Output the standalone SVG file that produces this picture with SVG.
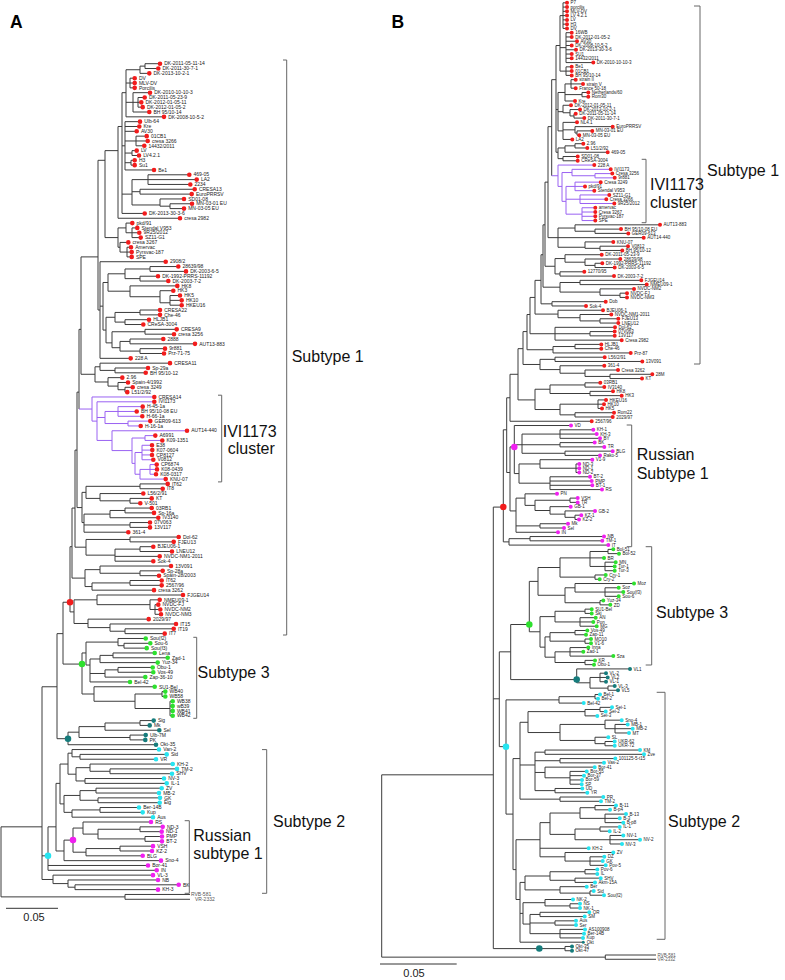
<svg xmlns="http://www.w3.org/2000/svg" width="785" height="980" viewBox="0 0 785 980">
<style>
.t{fill:none;stroke:#3c3c3c;stroke-width:1;vector-effect:non-scaling-stroke}
.pu{fill:none;stroke:#9a62f2;stroke-width:1;vector-effect:non-scaling-stroke}
.d{fill:none;stroke-linecap:round;vector-effect:non-scaling-stroke;stroke-width:4.6}
.db{fill:none;stroke-linecap:round;vector-effect:non-scaling-stroke;stroke-width:4}
.ds{fill:none;stroke-linecap:round;vector-effect:non-scaling-stroke;stroke-width:3}
.nd{fill:none;stroke-linecap:round;vector-effect:non-scaling-stroke;stroke-width:6.5}
.red{stroke:#f21c1c}.mag{stroke:#f020f0}.grn{stroke:#2ee02e}.tea{stroke:#167c7c}.cya{stroke:#26e4f0}
.la{font-family:"Liberation Sans",Arial,sans-serif;font-size:5px;fill:#1a1a1a}
.lb{font-family:"Liberation Sans",Arial,sans-serif;font-size:4.5px;fill:#1a1a1a}
.og{fill:#555}
.big{font-family:"Liberation Sans",Arial,sans-serif;font-size:16px;fill:#111}
.br{fill:none;stroke:#666;stroke-width:1}
.pl{font-family:"Liberation Sans",Arial,sans-serif;font-size:17.5px;font-weight:bold;fill:#000}
.sc{font-family:"Liberation Sans",Arial,sans-serif;font-size:11px;fill:#222}
</style>
<rect width="785" height="980" fill="#fff"/>

<g id="panelA">
<text class="pl" x="10" y="28">A</text>
<g id="A-connectors" transform="matrix(1 0 0 4.83 0 63.7)">
<path class="t" d="M1 158V172.5M1 158H42M1 172.5H125M125 172V173M125 172H190M125 173H190
M42 129V168.9M42 129H57M42 164H48M42 168.9H53
M53 168V169.75M53 168H153M53 169.75H68M68 169V170.5M68 169H158M68 170.5H75M75 170V171M75 170H178.7M75 171H158
M48 158V167M48 158H56M48 166H148M48 167H156.7
M56 149V163M56 149H60M56 163H64
M60 145V153.25M60 145H68M60 153.25H64
M68 142.75V147.1M68 142.75H72M68 147.1H76
M72 142V143.5M72 142H159M72 143.5H80
M80 143V144M80 143H166.7M80 144H156
M76 145.75V148.5M76 145.75H90M76 148.5H85
M90 145V146.5M90 145H172.7M90 146.5H110
M110 146V147M110 146H177M110 147H172
M85 148V149M85 148H164M85 149H166.7
M64 151.5V155M64 151.5H80M64 155H72
M80 150.5V152.5M80 150.5H96M80 152.5H98
M96 150V151M96 150H161.7M96 151H159
M98 152V153M98 152H160M98 153H159.7
M72 154.5V156M72 154.5H100M72 156H153
M100 154V155M100 154H139M100 155H142.7
M64 160.75V165M64 160.75H73M64 165H161
M73 158.25V163.25M73 158.25H83M73 163.25H86
M83 157V159.5M83 157H151M83 159.5H98
M98 158.5V160.5M98 158.5H140M98 160.5H145
M140 158V159M140 158H162.7M140 159H161.7
M145 160V161M145 160H162M145 161H162
M86 162.5V164M86 162.5H120M86 164H142.7
M120 162V163M120 162H153M120 163H152
M57 118V139.75M57 118H63M57 139.75H68
M63 111.5V124.3M63 111.5H70M63 124.3H82
M82 122V130.5M82 122H86M82 130.5H94
M86 119.75V124.5M86 119.75H118M86 124.5H90
M118 119V120.5M118 119H145.7M118 120.5H124
M124 120V121M124 120H150.3M124 121H146.7
M90 123.25V128M90 123.25H100M90 126.25H105M90 128H130
M100 122.5V124M100 122.5H113M100 124H157.7
M113 122V123M113 122H154.7M113 123H167.7
M105 125.5V127M105 125.5H118M105 127H145.3
M118 125V126M118 125H152.7M118 126H153.3
M94 129V132M94 129H154.7M94 132H135
M135 130.5V133.5M135 130.5H162M135 133.5H170
M162 130V131M162 130H165.3M162 131H165.3
M170 132V135M170 132H172.7M170 133H172.7M170 134H172.7M170 135H172.7
M68 138.4V141M68 138.4H79M68 141H156
M79 137.25V139.5M79 137.25H105M79 139.5H130
M105 136.5V138M105 136.5H140M105 138H159.3
M140 136V137M140 136H153.7M140 137H149.7
M130 139V140M130 139H145.7M130 140H145.3
M70 100V113.5M70 100H72M70 113.5H74
M74 111V115.9M74 111H97M74 115.9H88
M97 110V112M97 110H183M97 112H150
M150 111V113M150 111H159.7M150 113H155
M155 112V114M155 112H158.3M155 113H160.3M155 114H161
M88 115V116.75M88 115H148.7M88 116.75H110
M110 116V117.5M110 116H176M110 117.5H125
M125 117V118M125 117H173.7M125 118H164.7
M72 92V106.5M72 92H75M72 106.5H85
M85 104.75V108.25M85 104.75H100M85 108.25H92
M100 104V105.5M100 104H171M100 105.5H140
M140 105V106M140 105H162.7M140 106H159
M92 107.5V109M92 107.5H130M92 109H154
M130 107V108M130 107H161.7M130 108H161.7
M75 80V100.1M75 80H77M75 100.1H86
M86 98.5V101.75M86 98.5H130M86 101.75H115
M130 98V99M130 98H178.7M130 99H173.7
M115 100.5V103M115 100.5H140M115 102H159.7M115 103H153.3
M140 100V101M140 100H153.3M140 101H172
M77 68V91.9M77 68H79M77 91.9H82
M82 88.75V95M82 88.75H86M82 95H84
M86 87.5V90M86 87.5H140M86 90H100
M140 87V88M140 87H167.7M140 88H162.7
M100 89V90.5M100 89H143.3M100 90.5H130
M130 90V91M130 90H151.7M130 91H140.3
M84 93.25V97M84 93.25H110M84 95.5H130M84 97H128.3
M110 92.5V94M110 92.5H125M110 94H158.3
M125 92V93M125 92H151.7M125 93H154
M130 95V96M130 95H150M130 96H150
M79 55V71.5M79 55H81
M81 40V64.3M81 40H98M81 64.3H95
M95 62.75V65.9M95 62.75H100M95 65.9H108
M100 62V63.5M100 62H170M100 63.5H115
M115 63V64M115 63H148M115 64H145.7
M108 65V66.75M108 65H122.3M108 66.75H118
M118 66V67.5M118 66H128M118 67.5H125
M125 67V68M125 67H132.7M125 68H127.3
M98 20V51M98 20H105M98 51H100
M100 41V61M100 41H165.7M100 50.2H103M100 61H130.7
M103 45.3V55.15M103 45.3H108M103 55.15H106
M108 43.5V47.1M108 43.5H125M108 47.1H130
M125 42.5V44.5M125 42.5H150M125 44.5H140
M150 42V43M150 42H178.3M150 43H186
M140 44V45M140 44H158M140 45H168.3
M130 46V48.25M130 46H177.3M130 48.25H160
M160 47V49.5M160 47H173.3M160 49.5H170
M170 48V50M170 48H180M170 49H181.7M170 50H181.7
M106 52.5V57.8M106 52.5H115M106 57.8H112
M115 51.5V53.5M115 51.5H140M115 53.5H125
M140 51V52M140 51H160M140 52H160
M125 53V54M125 53H149M125 54H143.3
M112 55.5V58.8M112 55.5H145M112 58.8H120
M145 55V56M145 55H176.7M145 56H174
M120 57.5V59.5M120 57.5H130M120 59.5H140
M130 57V58M130 57H163.3M130 58H195
M140 59V60M140 59H165M140 60H164
M105 18V36M105 18H118M105 36H118
M118 34V38M118 34H126M118 38H120
M126 33V35M126 33H132.3M126 35H132
M132 34V36M132 34H137.3M132 35H139.3M132 36H140.7
M120 37V39M120 37H128.3M120 39H127
M127 38V40M127 38H131M127 39H131.7M127 40H131.7
M118 13V32M118 13H122M118 32H180
M122 6V31M122 6H126M122 17H125M122 27H132M122 31H144.7
M126 1.25V11M126 1.25H140M126 4H130M126 8H133M126 11H164
M140 0.5V2M140 0.5H145M140 2H149.3
M145 0V1M145 0H160M145 1H158.3
M130 3V5M130 3H134.7M130 4H134.7M130 5H134.7
M133 6V10M133 6H150M133 8H138M133 10H149.3
M138 7V9M138 7H144.7M138 8H141.3M138 9H142.7
M125 12V22M125 12H140M125 13H139.3M125 14H136.7M125 16H136M125 18.5H132M125 20.5H131M125 22H154
M136 15V17M136 15H146.7M136 16H147.7M136 17H144.3
M132 18V19M132 18H136.7M132 19H139
M131 20V21M131 20H134.7M131 21H134.7
M132 24V29.25M132 24H148M132 26.5H140M132 29.25H160
M148 23V25M148 23H189.3M148 24H196.7M148 25H190.3
M140 26V27M140 26H194.7M140 27H191.7
M160 28V29.5M160 28H184M160 29.5H170
M170 29V30M170 29H192M170 30H184"/>
<path class="pu" d="M79 71.5H92M92 69V74M92 69H154.3M92 74H97
M97 70V78M97 70H154.3M97 73.25H105M97 78H112
M105 72V74.5M105 72H118M105 74.5H128
M118 71V73M118 71H142.7M118 72H136.7M118 73H142.3
M128 74V75M128 74H150.3M128 75H140.7
M112 76V80.1M112 76H187M112 80.1H132
M132 77.5V82.75M132 77.5H145M132 82.75H135
M145 77V78M145 77H155.3M145 78H162.3
M135 80.5V85M135 80.5H142M135 85H140
M142 79V82M142 79H152M142 80H152.3M142 81H152M142 82H153.3
M140 84V86M140 84H150M140 86H165.7
M150 83V85M150 83H156.7M150 84H157M150 85H156"/>
</g>

<g id="A-subtype1">
<path class="d red" transform="matrix(1 0 0 4.83 0 63.7)" d="M160 0h.01M158.3 1h.01M149.3 2h.01M134.7 3h.01M134.7 4h.01M134.7 5h.01M150 6h.01M144.7 7h.01M141.3 8h.01M142.7 9h.01M149.3 10h.01M164 11h.01M140 12h.01M139.3 13h.01M136.7 14h.01M146.7 15h.01M147.7 16h.01M144.3 17h.01M136.7 18h.01M139 19h.01M134.7 20h.01M134.7 21h.01M154 22h.01M189.3 23h.01M196.7 24h.01M190.3 25h.01M194.7 26h.01M191.7 27h.01M184 28h.01M192 29h.01M184 30h.01M144.7 31h.01M180 32h.01M132.3 33h.01M137.3 34h.01M139.3 35h.01M140.7 36h.01M128.3 37h.01M131 38h.01M131.7 39h.01M131.7 40h.01M165.7 41h.01M178.3 42h.01M186 43h.01M158 44h.01M168.3 45h.01M177.3 46h.01M173.3 47h.01M180 48h.01M181.7 49h.01M181.7 50h.01M160 51h.01M160 52h.01M149 53h.01M143.3 54h.01M176.7 55h.01M174 56h.01M163.3 57h.01M195 58h.01M165 59h.01M164 60h.01M130.7 61h.01M170 62h.01M148 63h.01M145.7 64h.01M122.3 65h.01M128 66h.01M132.7 67h.01M127.3 68h.01M154.3 69h.01M154.3 70h.01M142.7 71h.01M136.7 72h.01M142.3 73h.01M150.3 74h.01M140.7 75h.01M187 76h.01M155.3 77h.01M162.3 78h.01M152 79h.01M152.3 80h.01M152 81h.01M153.3 82h.01M156.7 83h.01M157 84h.01M156 85h.01M165.7 86h.01M167.7 87h.01M162.7 88h.01M143.3 89h.01M151.7 90h.01M140.3 91h.01M151.7 92h.01M154 93h.01M158.3 94h.01M150 95h.01M150 96h.01M128.3 97h.01M178.7 98h.01M173.7 99h.01M153.3 100h.01M172 101h.01M159.7 102h.01M153.3 103h.01M171 104h.01M162.7 105h.01M159 106h.01M161.7 107h.01M161.7 108h.01M154 109h.01M183 110h.01M159.7 111h.01M158.3 112h.01M160.3 113h.01M161 114h.01M148.7 115h.01M176 116h.01M173.7 117h.01M164.7 118h.01"/>
<text class="la"><tspan x="164.2" y="65.4">DK-2011-05-11-14</tspan><tspan x="162.5" dy="4.83">DK-2011-30-7-1</tspan><tspan x="153.5" dy="4.83">DK-2013-10-2-1</tspan><tspan x="138.9" dy="4.83">DV</tspan><tspan x="138.9" dy="4.83">MLV-DV</tspan><tspan x="138.9" dy="4.83">Porcilis</tspan><tspan x="154.2" dy="4.83">DK-2010-10-10-3</tspan><tspan x="148.9" dy="4.83">DK-2011-05-23-9</tspan><tspan x="145.5" dy="4.83">DK-2012-01-05-11</tspan><tspan x="146.9" dy="4.83">DK-2012-01-05-2</tspan><tspan x="153.5" dy="4.83">BH 95/10-14</tspan><tspan x="168.2" dy="4.83">DK-2008-10-5-2</tspan><tspan x="144.2" dy="4.83">Ulb-64</tspan><tspan x="143.5" dy="4.83">Kre</tspan><tspan x="140.9" dy="4.83">AV30</tspan><tspan x="150.9" dy="4.83">01CB1</tspan><tspan x="151.9" dy="4.83">cresa 3266</tspan><tspan x="148.5" dy="4.83">14432/2011</tspan><tspan x="140.9" dy="4.83">LV</tspan><tspan x="143.2" dy="4.83">LV4.2.1</tspan><tspan x="138.9" dy="4.83">H3</tspan><tspan x="138.9" dy="4.83">Su1</tspan><tspan x="158.2" dy="4.83">Be1</tspan><tspan x="193.5" dy="4.83">469-05</tspan><tspan x="200.9" dy="4.83">LA2</tspan><tspan x="194.5" dy="4.83">2234</tspan><tspan x="198.9" dy="4.83">CRESA13</tspan><tspan x="195.9" dy="4.83">EuroPRRSV</tspan><tspan x="188.2" dy="4.83">SD01-08</tspan><tspan x="196.2" dy="4.83">MN-03-01 EU</tspan><tspan x="188.2" dy="4.83">MN-03-05 EU</tspan><tspan x="148.9" dy="4.83">DK-2013-30-3-6</tspan><tspan x="184.2" dy="4.83">cresa 2982</tspan><tspan x="136.5" dy="4.83">pkd/91</tspan><tspan x="141.5" dy="4.83">Stendal V953</tspan><tspan x="143.5" dy="4.83">9R25/2012</tspan><tspan x="144.9" dy="4.83">SZ11-G1</tspan><tspan x="132.5" dy="4.83">cresa 3267</tspan><tspan x="135.2" dy="4.83">Amervac</tspan><tspan x="135.9" dy="4.83">Pyrsvac-187</tspan><tspan x="135.9" dy="4.83">SPE</tspan><tspan x="169.9" dy="4.83">2908/2</tspan><tspan x="182.5" dy="4.83">28639/98</tspan><tspan x="190.2" dy="4.83">DK-2003-6-5</tspan><tspan x="162.2" dy="4.83">DK-1992-PRRS-11192</tspan><tspan x="172.5" dy="4.83">DK-2003-7-2</tspan><tspan x="181.5" dy="4.83">HK8</tspan><tspan x="177.5" dy="4.83">HK3</tspan><tspan x="184.2" dy="4.83">HK5</tspan><tspan x="185.9" dy="4.83">HK10</tspan><tspan x="185.9" dy="4.83">HKEU16</tspan><tspan x="164.2" dy="4.83">CRESA22</tspan><tspan x="164.2" dy="4.83">Che-46</tspan><tspan x="153.2" dy="4.83">HLJB1</tspan><tspan x="147.5" dy="4.83">CReSA-3004</tspan><tspan x="180.9" dy="4.83">CRESA9</tspan><tspan x="178.2" dy="4.83">cresa 3256</tspan><tspan x="167.5" dy="4.83">2888</tspan><tspan x="199.2" dy="4.83">AUT13-883</tspan><tspan x="169.2" dy="4.83">9r881</tspan><tspan x="168.2" dy="4.83">Prz-71-75</tspan><tspan x="134.9" dy="4.83">228 A</tspan><tspan x="174.2" dy="4.83">CRESA11</tspan><tspan x="152.2" dy="4.83">Sp-29a</tspan><tspan x="149.9" dy="4.83">BH 95/10-12</tspan><tspan x="126.5" dy="4.83">2.96</tspan><tspan x="132.2" dy="4.83">Spain-4/1992</tspan><tspan x="136.9" dy="4.83">cresa 3249</tspan><tspan x="131.5" dy="4.83">L51/2/92</tspan><tspan x="158.5" dy="4.83">CRESA14</tspan><tspan x="158.5" dy="4.83">IVI1173</tspan><tspan x="146.9" dy="4.83">H-45-1a</tspan><tspan x="140.9" dy="4.83">BH 95/10-08 EU</tspan><tspan x="146.5" dy="4.83">H-66-1a</tspan><tspan x="154.5" dy="4.83">GER09-613</tspan><tspan x="144.9" dy="4.83">H-16-1a</tspan><tspan x="191.2" dy="4.83">AUT14-440</tspan><tspan x="159.5" dy="4.83">A6991</tspan><tspan x="166.5" dy="4.83">K09-1351</tspan><tspan x="156.2" dy="4.83">E38</tspan><tspan x="156.5" dy="4.83">K07-0604</tspan><tspan x="156.2" dy="4.83">CP8127</tspan><tspan x="157.5" dy="4.83">V0812</tspan><tspan x="160.9" dy="4.83">CP6874</tspan><tspan x="161.2" dy="4.83">K08-0439</tspan><tspan x="160.2" dy="4.83">K08-0317</tspan><tspan x="169.9" dy="4.83">KNU-07</tspan><tspan x="171.9" dy="4.83">IT62</tspan><tspan x="166.9" dy="4.83">IT8</tspan><tspan x="147.5" dy="4.83">L56/2/91</tspan><tspan x="155.9" dy="4.83">KT</tspan><tspan x="144.5" dy="4.83">V-501</tspan><tspan x="155.9" dy="4.83">03RB1</tspan><tspan x="158.2" dy="4.83">Sp-16a</tspan><tspan x="162.5" dy="4.83">IV3140</tspan><tspan x="154.2" dy="4.83">07V063</tspan><tspan x="154.2" dy="4.83">13V117</tspan><tspan x="132.5" dy="4.83">361-4</tspan><tspan x="182.9" dy="4.83">Dol-62</tspan><tspan x="177.9" dy="4.83">FJEU13</tspan><tspan x="157.5" dy="4.83">BJEU06-1</tspan><tspan x="176.2" dy="4.83">LNEU12</tspan><tspan x="163.9" dy="4.83">NVDC-NM1-2011</tspan><tspan x="157.5" dy="4.83">Sok-4</tspan><tspan x="175.2" dy="4.83">13V091</tspan><tspan x="166.9" dy="4.83">Sp-28a</tspan><tspan x="163.2" dy="4.83">Spain-28/2003</tspan><tspan x="165.9" dy="4.83">IT62</tspan><tspan x="165.9" dy="4.83">2567/96</tspan><tspan x="158.2" dy="4.83">cresa 3262</tspan><tspan x="187.2" dy="4.83">FJGEU14</tspan><tspan x="163.9" dy="4.83">NMEU09-1</tspan><tspan x="162.5" dy="4.83">NVDC-FJ</tspan><tspan x="164.5" dy="4.83">NVDC-NM2</tspan><tspan x="165.2" dy="4.83">NVDC-NM3</tspan><tspan x="152.9" dy="4.83">2029/97</tspan><tspan x="180.2" dy="4.83">IT15</tspan><tspan x="177.9" dy="4.83">IT19</tspan><tspan x="168.9" dy="4.83">IT7</tspan></text>
</g>

<g id="A-subtype3">
<path class="d grn" transform="matrix(1 0 0 4.83 0 63.7)" d="M145.7 119h.01M150.3 120h.01M146.7 121h.01M154.7 122h.01M167.7 123h.01M157.7 124h.01M152.7 125h.01M153.3 126h.01M145.3 127h.01M130 128h.01M154.7 129h.01M165.3 130h.01M165.3 131h.01M172.7 132h.01M172.7 133h.01M172.7 134h.01M172.7 135h.01"/>
<text class="la"><tspan x="149.9" y="640.2">Sou(f2)</tspan><tspan x="154.5" dy="4.83">Sou-6</tspan><tspan x="150.9" dy="4.83">Sou(f3)</tspan><tspan x="158.9" dy="4.83">Lena</tspan><tspan x="171.9" dy="4.83">Zad-1</tspan><tspan x="161.9" dy="4.83">Yuz-34</tspan><tspan x="156.9" dy="4.83">Obu-1</tspan><tspan x="157.5" dy="4.83">Vos-49</tspan><tspan x="149.5" dy="4.83">Zap-36-10</tspan><tspan x="134.2" dy="4.83">Bel-42</tspan><tspan x="158.9" dy="4.83">SU1-Bel</tspan><tspan x="169.5" dy="4.83">WB40</tspan><tspan x="169.5" dy="4.83">WB58</tspan><tspan x="176.9" dy="4.83">WB38</tspan><tspan x="176.9" dy="4.83">wB39</tspan><tspan x="176.9" dy="4.83">WB41</tspan><tspan x="176.9" dy="4.83">WB42</tspan></text>
</g>

<g id="A-teal">
<path class="d tea" transform="matrix(1 0 0 4.83 0 63.7)" d="M153.7 136h.01M149.7 137h.01M159.3 138h.01M145.7 139h.01M145.3 140h.01M156 141h.01"/>
<text class="la"><tspan x="157.9" y="722.3">Sig</tspan><tspan x="153.9" dy="4.83">Mk</tspan><tspan x="163.5" dy="4.83">Sel</tspan><tspan x="149.9" dy="4.83">Ulb-7M</tspan><tspan x="149.5" dy="4.83">PK</tspan><tspan x="160.2" dy="4.83">Okt-35</tspan></text>
</g>

<g id="A-subtype2">
<path class="d cya" transform="matrix(1 0 0 4.83 0 63.7)" d="M159 142h.01M166.7 143h.01M156 144h.01M172.7 145h.01M177 146h.01M172 147h.01M164 148h.01M166.7 149h.01M161.7 150h.01M159 151h.01M160 152h.01M159.7 153h.01M139 154h.01M142.7 155h.01M153 156h.01"/>
<text class="la"><tspan x="163.2" y="751.3">Van-2</tspan><tspan x="170.9" dy="4.83">Sid</tspan><tspan x="160.2" dy="4.83">VR</tspan><tspan x="176.9" dy="4.83">KH-2</tspan><tspan x="181.2" dy="4.83">TM-2</tspan><tspan x="176.2" dy="4.83">SHV</tspan><tspan x="168.2" dy="4.83">NV-3</tspan><tspan x="170.9" dy="4.83">IL-1</tspan><tspan x="165.9" dy="4.83">ZV</tspan><tspan x="163.2" dy="4.83">MB-2</tspan><tspan x="164.2" dy="4.83">GK</tspan><tspan x="163.9" dy="4.83">Eig</tspan><tspan x="143.2" dy="4.83">Ber-14B</tspan><tspan x="146.9" dy="4.83">Kup</tspan><tspan x="157.2" dy="4.83">Aus</tspan></text>
</g>

<g id="A-russian1">
<path class="d mag" transform="matrix(1 0 0 4.83 0 63.7)" d="M151 157h.01M162.7 158h.01M161.7 159h.01M162 160h.01M162 161h.01M153 162h.01M152 163h.01M142.7 164h.01M161 165h.01M148 166h.01M156.7 167h.01M153 168h.01M158 169h.01M178.7 170h.01M158 171h.01"/>
<text class="la"><tspan x="155.2" y="823.8">RS</tspan><tspan x="166.9" dy="4.83">ND-3</tspan><tspan x="165.9" dy="4.83">ND-1</tspan><tspan x="166.2" dy="4.83">PMP</tspan><tspan x="166.2" dy="4.83">BT-2</tspan><tspan x="157.2" dy="4.83">VSH</tspan><tspan x="156.2" dy="4.83">KZ-2</tspan><tspan x="146.9" dy="4.83">BLG</tspan><tspan x="165.2" dy="4.83">Sno-4</tspan><tspan x="152.2" dy="4.83">Bor-41</tspan><tspan x="160.9" dy="4.83">IN</tspan><tspan x="157.2" dy="4.83">VL-3</tspan><tspan x="162.2" dy="4.83">NB</tspan><tspan x="182.9" dy="4.83">BK</tspan><tspan x="162.2" dy="4.83">KH-3</tspan></text>
</g>

<g id="A-outgroup">
<text class="la og"><tspan x="191" y="896.2">RVB-581</tspan><tspan x="195" dy="4.83">VR-2332</tspan></text>
</g>

<g id="A-nodes" transform="matrix(1 0 0 4.83 0 63.7)">
<path class="nd red" d="M70 111.5h.01"/>
<path class="nd grn" d="M82 124.3h.01"/>
<path class="nd tea" d="M68 139.75h.01"/>
<path class="nd mag" d="M73 160.75h.01"/>
<path class="nd cya" d="M48 164h.01"/>
</g>

<g id="A-brackets">
<path class="br" d="M283 60H286.7V635H283M218 395.2H221.7V481.9H218M193.3 637.3H196.7V718.3H193.3M262 749.6H266.7V893.3H262M184.7 820.7H189.3V893.3H184.7"/>
<text class="big" x="291.7" y="362">Subtype 1</text>
<text class="big" x="222.7" y="436.5">IVI1173</text>
<text class="big" x="227.7" y="454">cluster</text>
<text class="big" x="197.5" y="678.3">Subtype 3</text>
<text class="big" x="273" y="826.5">Subtype 2</text>
<text class="big" x="193.3" y="840.7">Russian</text>
<text class="big" x="193.3" y="859.3">subtype 1</text>
</g>

<g id="A-scale">
<path class="br" style="stroke:#333" d="M6 908.3H58"/>
<text class="sc" x="23.3" y="920.7">0.05</text>
</g>
</g>

<g id="panelB">
<text class="pl" x="391.5" y="28">B</text>
<g id="B-connectors" transform="matrix(1 0 0 4.27 0 2.8)">
<path class="t" d="M381.7 180.8V223.5M381.7 180.8H493.3M381.7 223.5H605.3M605.3 223V224M605.3 223H656M605.3 224H656
M493.3 118.1V221.5M493.3 118.1H503.3M493.3 163H499.3M493.3 221.5H565M565 221V222M565 221H572M565 222H572
M503.3 100V126.25M503.3 100H506.7M503.3 126.25H509
M509 125.5V127M509 125.5H530M509 127H608.3
M530 125V126M530 125H604M530 126H602.3
M506.7 92.5V110M506.7 92.5H510M506.7 110H510
M510 104V119M510 104H514.3M510 119H516
M514.3 99V110.25M514.3 99H571M514.3 103.5H522M514.3 110.25H519
M522 101V105.5M522 101H560M522 103.5H560M522 105.5H565
M560 100V102M560 100H593.3M560 101H596.7M560 102H600
M560 103V104M560 103H594.7M560 104H604.3
M565 105V106M565 105H612.7M565 106H600
M519 108V112.5M519 108H540M519 112.5H550
M540 107V109M540 107H592.3M540 109H576
M576 108V110M576 108H579.3M576 109H579.3M576 110H579.3
M550 111V114M550 111H590M550 112H591.7M550 113H592.3M550 114H602
M516 116V124M516 116H525M516 122.5H540M516 124H558
M525 115V117.7M525 115H557M525 117.7H535
M535 116.5V118.9M535 116.5H570M535 118.9H550
M570 116V117M570 116H577.7M570 117H577.7
M550 118V119.75M550 118H570.7M550 119.75H565
M565 119V120.5M565 119H595M565 120.5H575
M575 120V121M575 120H581.3M575 121H579
M540 122V123M540 122H568M540 123H564
M510 87V98M510 87H518M510 98H591.7
M518 81V93M518 81H523M518 93H535
M523 77V84.7M523 77H527M523 84.7H540
M527 73V81.25M527 73H530M527 81.25H553
M530 69V77.5M530 69H535M530 77.5H555
M535 65V72.9M535 65H541M535 72.9H558
M541 59V70.5M541 59H543M541 70.5H552
M543 52V66.6M543 52H545M543 66.6H560
M545 42V61.7M545 42H548M545 61.7H555
M548 29V55M548 29H551.7M548 55H558
M551.7 18V40.5M551.7 18H556
M535 90.5V95.25M535 90.5H550M535 95.25H560
M550 89.5V91.5M550 89.5H585M550 91.5H590
M585 89V90M585 89H600.3M585 90H604.3
M590 91V92M590 91H613M590 92H621.7
M560 94V96.5M560 94H598M560 96.5H575
M598 93V95M598 93H606M598 94H604M598 95H602
M575 96V97M575 96H614M575 97H612.7
M540 83.5V85.9M540 83.5H555M540 85.9H560
M555 83V84M555 83H604.7M555 84H642.3
M560 85V86.75M560 85H604.3M560 86.75H585
M585 86V87.5M585 86H618M585 87.5H610
M610 87V88M610 87H652.3M610 88H642
M553 80.5V82M553 80.5H575M553 82H630.7
M575 80V81M575 80H601.3M575 81H601.3
M555 76V79M555 76H615M555 77.5H590M555 79H621.7
M590 77V78M590 77H614.7M590 78H614.7
M558 72V73.75M558 72H603M558 73.75H580
M580 73V74.5M580 73H611.3M580 74.5H600
M600 74V75M600 74H618.3M600 75H618.3
M552 70V71M552 70H605.7M552 71H586
M560 65.5V67.75M560 65.5H580M560 67.75H600
M580 65V66M580 65H641.3M580 66H646.7
M600 67V68.5M600 67H634M600 68.5H620
M620 68V69M620 68H627M620 69H627
M555 59.9V63.5M555 59.9H565M555 63.5H560
M565 59V60.75M565 59H601.7M565 60.75H585
M585 60V61.5M585 60H620.3M585 61.5H595
M595 61V62M595 61H602.3M595 62H614.7
M560 63V64M560 63H584.3M560 64H614
M558 52.75V57.25M558 52.75H575M558 55H643.7M558 57.25H585
M575 52V53.5M575 52H660M575 53.5H595
M595 53V54M595 53H621M595 54H628.3
M585 56V57.5M585 56H613.3M585 57.5H600
M600 57V58M600 57H628M600 58H622.3
M556 10V35M556 10H560M556 25H558M556 35H558
M560 3V16M560 3H563M560 10.5H566M560 16H566
M563 0V6M563 0H567M563 1H567M563 2H567M563 3H567M563 4H567M563 5H567M563 6H567
M566 7V14M566 7H571.7M566 8H571.7M566 9H577M566 10H571.7M566 11H576M566 12H571.7M566 13H571.7M566 14H593.3
M566 15V17M566 15H571.7M566 16H571.7M566 17H571.7
M558 21V30M558 21H565M558 25.5H563M558 30H563
M565 19V23M565 19H571M565 21.5H582M565 23H575
M571 18V20M571 18H575.7M571 19H583M571 20H575.7
M582 21V22M582 21H588.3M582 22H588.3
M563 24V25.75M563 24H571M563 25.75H570
M570 25V26.5M570 25H580M570 26.5H574
M574 26V27M574 26H575.7M574 27H584.3
M563 28V32M563 28H577M563 29.75H575M563 32H572.3
M575 29V30.5M575 29H612.7M575 30.5H577
M577 30V31M577 30H592.3M577 31H579.3
M558 34V36.5M558 34H565M558 36.5H563
M565 33.5V35M565 33.5H575M565 35H607.7
M575 33V34M575 33H583.3M575 34H587.3
M563 36V37M563 36H577.7M563 37H577.7
M499.3 152V174.2M499.3 152H510.7M499.3 174.2H506
M510.7 145.6V158.5M510.7 145.6H529.3M510.7 158.5H576.7
M529.3 135.5V147.3M529.3 135.5H538M529.3 147.3H540
M538 132.25V138.75M538 132.25H560M538 138.75H565
M560 130V134.5M560 130H590M560 134.5H595
M590 128.5V132M590 128.5H608M590 130H604M590 132H605
M608 128V129M608 128H613.3M608 129H619
M605 131V133M605 131H615.7M605 132H614.7M605 133H614.7
M595 134V135M595 134H605.7M595 135H599.7
M565 137V140.5M565 137H575M565 140.5H600
M575 136V138M575 136H634M575 138H605
M605 137V139M605 137H618.7M605 138H623.3M605 139H618.7
M600 140V141M600 140H603.3M600 141H610.3
M540 143.75V150.9M540 143.75H555M540 150.9H545
M555 142.5V145M555 142.5H585M555 145H580
M585 142V143M585 142H591.7M585 143H591.7
M580 144V146M580 144H595.7M580 145H593.3M580 146H596.7
M545 148.5V153.25M545 148.5H550M545 153.25H555
M550 147.5V149.5M550 147.5H575M550 149.5H585
M575 147V148M575 147H587.3M575 148H586
M585 149V150M585 149H591M585 150H591
M555 152V154.5M555 152H570M555 154.5H585
M570 151V153M570 151H588.3M570 152H583.3M570 153H613.3
M585 154V155M585 154H595M585 155H594
M576.7 156V159.25M576.7 156H630M576.7 159.25H590
M590 158V160.5M590 158H600M590 160.5H608
M600 157V159M600 157H606M600 158H607.7M600 159H606
M608 160V161M608 160H614.7M608 161H618
M506 163.25V190M506 163.25H559M506 190H513
M559 162.5V164M559 162.5H595M559 164H583.7
M595 162V163M595 162H600M595 163H598
M513 177V203M513 177H520M513 203H516
M520 168.5V186.5M520 168.5H528M520 178.5H535M520 186.5H560
M528 166V170.9M528 166H585M528 170.9H560
M585 165.5V167M585 165.5H600M585 167H597.3
M600 165V166M600 165H612M600 166H605.7
M560 169V172.75M560 169H605M560 172.75H595
M605 168V170M605 168H621.7M605 170H615
M615 169V171M615 169H627.7M615 170H632.7M615 171H629
M595 172V173.5M595 172H608.3M595 173.5H605
M605 173V174M605 173H614.7M605 174H614.7
M535 175.5V184.5M535 175.5H545M535 177.5H560M535 180.25H545M535 184.5H555
M545 175V176M545 175H640M545 176H644
M560 177V178M560 177H615.3M560 178H604
M545 179V181.5M545 179H594.7M545 181.5H570
M570 180V183M570 180H586.7M570 181H584M570 182H582M570 183H581.7
M555 184V185M555 184H582.3M555 185H587.3
M560 186V187M560 186H603.3M560 187H601
M516 196V210M516 196H540M516 210H520
M540 192V200M540 192H550M540 198H588.7M540 200H565
M550 189.75V194.75M550 189.75H580M550 194.75H575
M580 188.5V191M580 188.5H595M580 191H605
M595 188V189M595 188H616M595 189H610
M605 190V192M605 190H626M605 191H619.7M605 192H623.3
M575 193.5V196M575 193.5H600M575 196H610
M600 193V194M600 193H619.7M600 194H609.7
M610 195V197M610 195H623.3M610 196H640M610 197H622
M565 199V201M565 199H613.3M565 201H590
M590 200V202M590 200H604.3M590 201H602.7M590 202H605.7
M520 206V220M520 206H525M520 213.25H523M520 220H583.3
M525 204.5V207.75M525 204.5H550M525 207.75H560
M550 203.5V205.5M550 203.5H585M550 205.5H575
M585 203V204M585 203H597.3M585 204H597.3
M575 205V206M575 205H600.7M575 206H595
M560 207V208.5M560 207H586.7M560 208.5H590
M590 208V209M590 208H593.7M590 209H604
M523 210.75V215.75M523 210.75H545M523 215.75H530
M545 210V211.5M545 210H573M545 211.5H570
M570 211V212M570 211H580M570 212H580
M530 213.5V218M530 213.5H540M530 215.5H555M530 218H560
M540 213V214M540 213H589.3M540 214H584.7
M555 215V216M555 215H576M555 216H576
M560 217V219M560 217H585M560 218H584M560 219H583"/>
<path class="pu" d="M551.7 40.5H558M558 38V43M558 38H594.3M558 43H562
M562 39.75V46.5M562 39.75H572M562 46.5H566
M572 39V40.5M572 39H610.7M572 40.5H595
M595 40V41M595 40H612.3M595 41H614.7
M566 43V49.5M566 43H575M566 46H580M566 49.5H582
M575 42V44M575 42H600.7M575 43H585M575 44H594.3
M580 45V47M580 45H609.3M580 46H606.3M580 47H614.3
M582 48V51M582 48H595.3M582 49H595.3M582 50H595.3M582 51H595.3"/>
</g>

<g id="B-subtype1">
<path class="db red" transform="matrix(1 0 0 4.27 0 2.8)" d="M567 0h.01M567 1h.01M567 2h.01M567 3h.01M567 4h.01M567 5h.01M567 6h.01M571.7 7h.01M571.7 8h.01M577 9h.01M571.7 10h.01M576 11h.01M571.7 12h.01M571.7 13h.01M593.3 14h.01M571.7 15h.01M571.7 16h.01M571.7 17h.01M575.7 18h.01M583 19h.01M575.7 20h.01M588.3 21h.01M588.3 22h.01M575 23h.01M571 24h.01M580 25h.01M575.7 26h.01M584.3 27h.01M577 28h.01M612.7 29h.01M592.3 30h.01M579.3 31h.01M572.3 32h.01M583.3 33h.01M587.3 34h.01M607.7 35h.01M577.7 36h.01M577.7 37h.01M594.3 38h.01M610.7 39h.01M612.3 40h.01M614.7 41h.01M600.7 42h.01M585 43h.01M594.3 44h.01M609.3 45h.01M606.3 46h.01M614.3 47h.01M595.3 48h.01M595.3 49h.01M595.3 50h.01M595.3 51h.01M660 52h.01M621 53h.01M628.3 54h.01M643.7 55h.01M613.3 56h.01M628 57h.01M622.3 58h.01M601.7 59h.01M620.3 60h.01M602.3 61h.01M614.7 62h.01M584.3 63h.01M614 64h.01M641.3 65h.01M646.7 66h.01M634 67h.01M627 68h.01M627 69h.01M605.7 70h.01M586 71h.01M603 72h.01M611.3 73h.01M618.3 74h.01M618.3 75h.01M615 76h.01M614.7 77h.01M614.7 78h.01M621.7 79h.01M601.3 80h.01M601.3 81h.01M630.7 82h.01M604.7 83h.01M642.3 84h.01M604.3 85h.01M618 86h.01M652.3 87h.01M642 88h.01M600.3 89h.01M604.3 90h.01M613 91h.01M621.7 92h.01M606 93h.01M604 94h.01M602 95h.01M614 96h.01M612.7 97h.01M591.7 98h.01"/>
<text class="lb"><tspan x="570.5" y="4.4">P7</tspan><tspan x="570.5" dy="4.27">porcilis</tspan><tspan x="570.5" dy="4.27">MLV-DV</tspan><tspan x="570.5" dy="4.27">LV 4.2.1</tspan><tspan x="570.5" dy="4.27">LV</tspan><tspan x="570.5" dy="4.27">H3</tspan><tspan x="570.5" dy="4.27">DV</tspan><tspan x="575.2" dy="4.27">16WB</tspan><tspan x="575.2" dy="4.27">DK-2012-01-05-2</tspan><tspan x="580.5" dy="4.27">AV30</tspan><tspan x="575.2" dy="4.27">DK-2008-10-5-2</tspan><tspan x="579.5" dy="4.27">DK-2013-30-3-6</tspan><tspan x="575.2" dy="4.27">SU1</tspan><tspan x="575.2" dy="4.27">14432/2011</tspan><tspan x="596.8" dy="4.27">DK-2010-10-10-3</tspan><tspan x="575.2" dy="4.27">Be1</tspan><tspan x="575.2" dy="4.27">01CB1</tspan><tspan x="575.2" dy="4.27">BH 95/10-14</tspan><tspan x="579.2" dy="4.27">strain II</tspan><tspan x="586.5" dy="4.27">strain V</tspan><tspan x="579.2" dy="4.27">France 50-18</tspan><tspan x="591.8" dy="4.27">Netherlands/60</tspan><tspan x="591.8" dy="4.27">Rom30</tspan><tspan x="578.5" dy="4.27">Kre</tspan><tspan x="574.5" dy="4.27">DK-2012-01-05-11</tspan><tspan x="583.5" dy="4.27">DK-2013-10-2-1</tspan><tspan x="579.2" dy="4.27">DK-2011-05-11-14</tspan><tspan x="587.8" dy="4.27">DK-2011-30-7-1</tspan><tspan x="580.5" dy="4.27">NL4.1</tspan><tspan x="616.2" dy="4.27">EuroPRRSV</tspan><tspan x="595.8" dy="4.27">MN-03-01 EU</tspan><tspan x="582.8" dy="4.27">MN-03-05 EU</tspan><tspan x="575.8" dy="4.27">LA2</tspan><tspan x="586.8" dy="4.27">2.96</tspan><tspan x="590.8" dy="4.27">L51/2/92</tspan><tspan x="611.2" dy="4.27">469-05</tspan><tspan x="581.2" dy="4.27">SD01-08</tspan><tspan x="581.2" dy="4.27">CReSA-3004</tspan><tspan x="597.8" dy="4.27">228 A</tspan><tspan x="614.2" dy="4.27">IVI1173</tspan><tspan x="615.8" dy="4.27">Cresa 3256</tspan><tspan x="618.2" dy="4.27">9r881</tspan><tspan x="604.2" dy="4.27">Cresa 3249</tspan><tspan x="588.5" dy="4.27">pkd/91</tspan><tspan x="597.8" dy="4.27">Stendal V953</tspan><tspan x="612.8" dy="4.27">SZ11-G1</tspan><tspan x="609.8" dy="4.27">Cresa 3266</tspan><tspan x="617.8" dy="4.27">9R25/2012</tspan><tspan x="598.8" dy="4.27">amervac</tspan><tspan x="598.8" dy="4.27">Cresa 3267</tspan><tspan x="598.8" dy="4.27">Pyrsvac-187</tspan><tspan x="598.8" dy="4.27">SPE</tspan><tspan x="663.5" dy="4.27">AUT13-883</tspan><tspan x="624.5" dy="4.27">BH 95/10-08 EU</tspan><tspan x="631.8" dy="4.27">GER09-613</tspan><tspan x="647.2" dy="4.27">AUT14-440</tspan><tspan x="616.8" dy="4.27">KNU-07</tspan><tspan x="631.5" dy="4.27">V0812</tspan><tspan x="625.8" dy="4.27">BH 95/10-12</tspan><tspan x="605.2" dy="4.27">DK-2011-05-23-9</tspan><tspan x="623.8" dy="4.27">28639/98</tspan><tspan x="605.8" dy="4.27">DK-1992-PRRS-11192</tspan><tspan x="618.2" dy="4.27">DK-2003-6-5</tspan><tspan x="587.8" dy="4.27">12770/95</tspan><tspan x="617.5" dy="4.27">DK-2003-7-2</tspan><tspan x="644.8" dy="4.27">FJGEU14</tspan><tspan x="650.2" dy="4.27">NMEU09-1</tspan><tspan x="637.5" dy="4.27">NVDC-NM2</tspan><tspan x="630.5" dy="4.27">NVDC-FJ</tspan><tspan x="630.5" dy="4.27">NVDC-NM3</tspan><tspan x="609.2" dy="4.27">Dob</tspan><tspan x="589.5" dy="4.27">Sok-4</tspan><tspan x="606.5" dy="4.27">BJEU06-1</tspan><tspan x="614.8" dy="4.27">NVDC-NM1-2011</tspan><tspan x="621.8" dy="4.27">FJEU13</tspan><tspan x="621.8" dy="4.27">LNEU12</tspan><tspan x="618.5" dy="4.27">Dol-62</tspan><tspan x="618.2" dy="4.27">07V063</tspan><tspan x="618.2" dy="4.27">13V117</tspan><tspan x="625.2" dy="4.27">Cresa 2982</tspan><tspan x="604.8" dy="4.27">HLJB1</tspan><tspan x="604.8" dy="4.27">Che-46</tspan><tspan x="634.2" dy="4.27">Prz-87</tspan><tspan x="608.2" dy="4.27">L56/2/91</tspan><tspan x="645.8" dy="4.27">13V091</tspan><tspan x="607.8" dy="4.27">361-4</tspan><tspan x="621.5" dy="4.27">Cresa 3262</tspan><tspan x="655.8" dy="4.27">28M</tspan><tspan x="645.5" dy="4.27">KT</tspan><tspan x="603.8" dy="4.27">03RB1</tspan><tspan x="607.8" dy="4.27">IV3140</tspan><tspan x="616.5" dy="4.27">HK8</tspan><tspan x="625.2" dy="4.27">HK3</tspan><tspan x="609.5" dy="4.27">HKEU16</tspan><tspan x="607.5" dy="4.27">HK10</tspan><tspan x="605.5" dy="4.27">HK5</tspan><tspan x="617.5" dy="4.27">Rom22</tspan><tspan x="616.2" dy="4.27">2029/97</tspan><tspan x="595.2" dy="4.27">2567/96</tspan></text>
</g>

<g id="B-russian1">
<path class="db mag" transform="matrix(1 0 0 4.27 0 2.8)" d="M571 99h.01M593.3 100h.01M596.7 101h.01M600 102h.01M594.7 103h.01M604.3 104h.01M612.7 105h.01M600 106h.01M592.3 107h.01M579.3 108h.01M579.3 109h.01M579.3 110h.01M590 111h.01M591.7 112h.01M592.3 113h.01M602 114h.01M557 115h.01M577.7 116h.01M577.7 117h.01M570.7 118h.01M595 119h.01M581.3 120h.01M579 121h.01M568 122h.01M564 123h.01M558 124h.01M604 125h.01M602.3 126h.01M608.3 127h.01"/>
<text class="lb"><tspan x="574.5" y="427.1">VD</tspan><tspan x="596.8" dy="4.27">KH-1</tspan><tspan x="600.2" dy="4.27">KH-3</tspan><tspan x="603.5" dy="4.27">BY</tspan><tspan x="598.2" dy="4.27">BK</tspan><tspan x="607.8" dy="4.27">TR</tspan><tspan x="616.2" dy="4.27">BLG</tspan><tspan x="603.5" dy="4.27">Rako-5</tspan><tspan x="595.8" dy="4.27">V1-9</tspan><tspan x="582.8" dy="4.27">ND-3</tspan><tspan x="582.8" dy="4.27">ND-1</tspan><tspan x="582.8" dy="4.27">ND-2</tspan><tspan x="593.5" dy="4.27">BT-2</tspan><tspan x="595.2" dy="4.27">PMP</tspan><tspan x="595.8" dy="4.27">BT-1</tspan><tspan x="605.5" dy="4.27">RS</tspan><tspan x="560.5" dy="4.27">PN</tspan><tspan x="581.2" dy="4.27">VSH</tspan><tspan x="581.2" dy="4.27">TR</tspan><tspan x="574.2" dy="4.27">GB-1</tspan><tspan x="598.5" dy="4.27">GB-2</tspan><tspan x="584.8" dy="4.27">KZ-1</tspan><tspan x="582.5" dy="4.27">KZ-2</tspan><tspan x="571.5" dy="4.27">Mk</tspan><tspan x="567.5" dy="4.27">Sel</tspan><tspan x="561.5" dy="4.27">IN</tspan><tspan x="607.5" dy="4.27">NB</tspan><tspan x="605.8" dy="4.27">TM-1</tspan><tspan x="611.8" dy="4.27">IT</tspan></text>
</g>

<g id="B-subtype3">
<path class="db grn" transform="matrix(1 0 0 4.27 0 2.8)" d="M613.3 128h.01M619 129h.01M604 130h.01M615.7 131h.01M614.7 132h.01M614.7 133h.01M605.7 134h.01M599.7 135h.01M634 136h.01M618.7 137h.01M623.3 138h.01M618.7 139h.01M603.3 140h.01M610.3 141h.01M591.7 142h.01M591.7 143h.01M595.7 144h.01M593.3 145h.01M596.7 146h.01M587.3 147h.01M586 148h.01M591 149h.01M591 150h.01M588.3 151h.01M583.3 152h.01M613.3 153h.01M595 154h.01M594 155h.01"/>
<text class="lb"><tspan x="616.8" y="551">Bol-51</tspan><tspan x="622.5" dy="4.27">Bol-52</tspan><tspan x="607.5" dy="4.27">BR</tspan><tspan x="619.2" dy="4.27">MN</tspan><tspan x="618.2" dy="4.27">Tur-1</tspan><tspan x="618.2" dy="4.27">Tur-3</tspan><tspan x="609.2" dy="4.27">Cry-1</tspan><tspan x="603.2" dy="4.27">Cry-2</tspan><tspan x="637.5" dy="4.27">Moz</tspan><tspan x="622.2" dy="4.27">Soz</tspan><tspan x="626.8" dy="4.27">Sou(f3)</tspan><tspan x="622.2" dy="4.27">Sou-6</tspan><tspan x="606.8" dy="4.27">Yuz-34</tspan><tspan x="613.8" dy="4.27">ZD</tspan><tspan x="595.2" dy="4.27">SU1-Bel</tspan><tspan x="595.2" dy="4.27">Ski</tspan><tspan x="599.2" dy="4.27">AN</tspan><tspan x="596.8" dy="4.27">Pon</tspan><tspan x="600.2" dy="4.27">MG</tspan><tspan x="590.8" dy="4.27">Vos-49</tspan><tspan x="589.5" dy="4.27">Zap-11</tspan><tspan x="594.5" dy="4.27">MO10</tspan><tspan x="594.5" dy="4.27">V1-6</tspan><tspan x="591.8" dy="4.27">Inna</tspan><tspan x="586.8" dy="4.27">Zad-1</tspan><tspan x="616.8" dy="4.27">Sza</tspan><tspan x="598.5" dy="4.27">KR</tspan><tspan x="597.5" dy="4.27">Obu-1</tspan></text>
</g>

<g id="B-teal-VL">
<path class="db tea" transform="matrix(1 0 0 4.27 0 2.8)" d="M630 156h.01M606 157h.01M607.7 158h.01M606 159h.01M614.7 160h.01M618 161h.01"/>
<text class="lb"><tspan x="633.5" y="670.5">VL1</tspan><tspan x="609.5" dy="4.27">VL-2</tspan><tspan x="611.2" dy="4.27">VL2</tspan><tspan x="609.5" dy="4.27">VL-1</tspan><tspan x="618.2" dy="4.27">VL-3</tspan><tspan x="621.5" dy="4.27">VL5</tspan></text>
</g>

<g id="B-subtype2">
<path class="db cya" transform="matrix(1 0 0 4.27 0 2.8)" d="M600 162h.01M598 163h.01M583.7 164h.01M612 165h.01M605.7 166h.01M597.3 167h.01M621.7 168h.01M627.7 169h.01M632.7 170h.01M629 171h.01M608.3 172h.01M614.7 173h.01M614.7 174h.01M640 175h.01M644 176h.01M615.3 177h.01M604 178h.01M594.7 179h.01M586.7 180h.01M584 181h.01M582 182h.01M581.7 183h.01M582.3 184h.01M587.3 185h.01M603.3 186h.01M601 187h.01M616 188h.01M610 189h.01M626 190h.01M619.7 191h.01M623.3 192h.01M619.7 193h.01M609.7 194h.01M623.3 195h.01M640 196h.01M622 197h.01M588.7 198h.01M613.3 199h.01M604.3 200h.01M602.7 201h.01M605.7 202h.01M597.3 203h.01M597.3 204h.01M600.7 205h.01M595 206h.01M586.7 207h.01M593.7 208h.01M604 209h.01M573 210h.01M580 211h.01M580 212h.01M589.3 213h.01M584.7 214h.01M576 215h.01M576 216h.01M585 217h.01M584 218h.01M583 219h.01"/>
<path class="ds tea" transform="matrix(1 0 0 4.27 0 2.8)" d="M583.3 220h.01"/>
<text class="lb"><tspan x="603.5" y="696.1">Bel-1</tspan><tspan x="601.5" dy="4.27">Bel-2</tspan><tspan x="587.2" dy="4.27">Bel-42</tspan><tspan x="615.5" dy="4.27">Sei-1</tspan><tspan x="609.2" dy="4.27">Sei-2</tspan><tspan x="600.8" dy="4.27">Sei-3</tspan><tspan x="625.2" dy="4.27">Sno-4</tspan><tspan x="631.2" dy="4.27">MB-1</tspan><tspan x="636.2" dy="4.27">MB-2</tspan><tspan x="632.5" dy="4.27">MT</tspan><tspan x="611.8" dy="4.27">SL</tspan><tspan x="618.2" dy="4.27">UKR-62</tspan><tspan x="618.2" dy="4.27">UKR-72</tspan><tspan x="643.5" dy="4.27">KM</tspan><tspan x="647.5" dy="4.27">Zve</tspan><tspan x="618.8" dy="4.27">101125-5-t15</tspan><tspan x="607.5" dy="4.27">Vas-2</tspan><tspan x="598.2" dy="4.27">Bor-41</tspan><tspan x="590.2" dy="4.27">Bor-55</tspan><tspan x="587.5" dy="4.27">Bor-37</tspan><tspan x="585.5" dy="4.27">Bor-59</tspan><tspan x="585.2" dy="4.27">SP</tspan><tspan x="585.8" dy="4.27">UD</tspan><tspan x="590.8" dy="4.27">YR</tspan><tspan x="606.8" dy="4.27">PR</tspan><tspan x="604.5" dy="4.27">TM-2</tspan><tspan x="619.5" dy="4.27">B-11</tspan><tspan x="613.5" dy="4.27">B-p4</tspan><tspan x="629.5" dy="4.27">B-13</tspan><tspan x="623.2" dy="4.27">B-3</tspan><tspan x="626.8" dy="4.27">B-p8</tspan><tspan x="623.2" dy="4.27">IL-1</tspan><tspan x="613.2" dy="4.27">IL-2</tspan><tspan x="626.8" dy="4.27">NV-1</tspan><tspan x="643.5" dy="4.27">NV-2</tspan><tspan x="625.5" dy="4.27">NV-3</tspan><tspan x="592.2" dy="4.27">KH-2</tspan><tspan x="616.8" dy="4.27">ZV</tspan><tspan x="607.8" dy="4.27">DZ</tspan><tspan x="606.2" dy="4.27">GK</tspan><tspan x="609.2" dy="4.27">Pov-5</tspan><tspan x="600.8" dy="4.27">Pov-6</tspan><tspan x="600.8" dy="4.27">IL</tspan><tspan x="604.2" dy="4.27">SHV</tspan><tspan x="598.5" dy="4.27">Akm-15A</tspan><tspan x="590.2" dy="4.27">Ber</tspan><tspan x="597.2" dy="4.27">Sid</tspan><tspan x="607.5" dy="4.27">Sou(f2)</tspan><tspan x="576.5" dy="4.27">NK-2</tspan><tspan x="583.5" dy="4.27">NS</tspan><tspan x="583.5" dy="4.27">NK-1</tspan><tspan x="592.8" dy="4.27">OR</tspan><tspan x="588.2" dy="4.27">SM</tspan><tspan x="579.5" dy="4.27">Aus</tspan><tspan x="579.5" dy="4.27">Ser</tspan><tspan x="588.5" dy="4.27">AS100908</tspan><tspan x="587.5" dy="4.27">Ber-14B</tspan><tspan x="586.5" dy="4.27">Kup</tspan><tspan x="586.8" dy="4.27">Okt</tspan></text>
</g>

<g id="B-teal-Okt">
<path class="db tea" transform="matrix(1 0 0 4.27 0 2.8)" d="M572 221h.01M572 222h.01"/>
<text class="lb"><tspan x="575.5" y="948.1">Okt-35</tspan><tspan x="575.5" dy="4.27">Okt-47</tspan></text>
</g>

<g id="B-outgroup">
<text class="lb og"><tspan x="657.5" y="956.6">RVB-581</tspan><tspan x="657.5" dy="4.27">VR-2332</tspan></text>
</g>

<g id="B-nodes" transform="matrix(1 0 0 4.27 0 2.8)">
<path class="nd red" d="M503.3 118.1h.01"/>
<path class="nd mag" d="M514.3 104h.01"/>
<path class="nd grn" d="M529.3 145.6h.01"/>
<path class="nd tea" d="M576.7 158.5h.01"/>
<path class="nd cya" d="M506 174.2h.01"/>
<path class="nd tea" d="M539.3 221.5h.01"/>
</g>

<g id="B-brackets">
<path class="br" d="M694 6H700V364H694M641.7 159.3H646V222.7H641.7M626.7 425H631.7V546.7H626.7M645.7 546.7H651.7V665H645.7M656.7 692.3H665V939.3H656.7"/>
<text class="big" x="707" y="176">Subtype 1</text>
<text class="big" x="650" y="190">IVI1173</text>
<text class="big" x="650" y="207.5">cluster</text>
<text class="big" x="636.7" y="460">Russian</text>
<text class="big" x="636.7" y="479">Subtype 1</text>
<text class="big" x="656" y="618.3">Subtype 3</text>
<text class="big" x="668" y="826.7">Subtype 2</text>
</g>

<g id="B-scale">
<path class="br" style="stroke:#333" d="M380 964H456.7"/>
<text class="sc" x="403.3" y="976.5">0.05</text>
</g>
</g>
</svg>
